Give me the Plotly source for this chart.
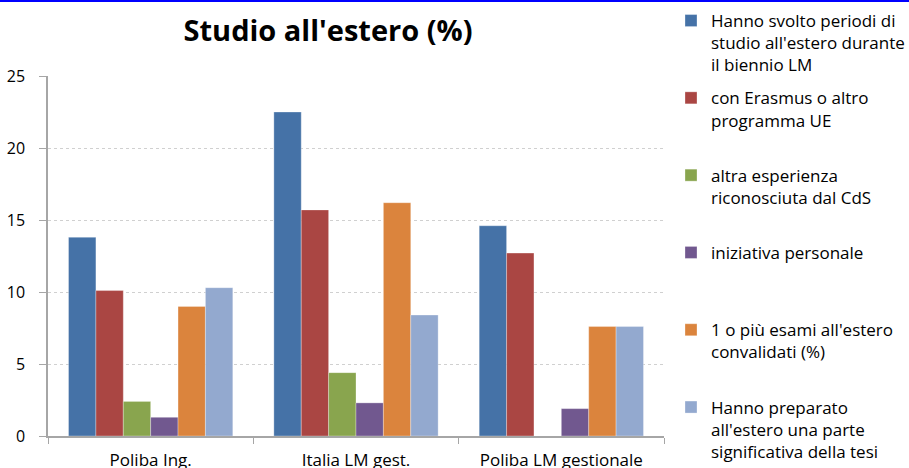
import plotly.graph_objects as go

categories = ["Poliba Ing.", "Italia LM gest.", "Poliba LM gestionale"]
series_names = [
    "Hanno svolto periodi di<br>studio all'estero durante<br>il biennio LM",
    "con Erasmus o altro<br>programma UE<br> ",
    "altra esperienza<br>riconosciuta dal CdS<br> ",
    "iniziativa personale<br> <br> ",
    "1 o più esami all'estero<br>convalidati (%)<br> ",
    "Hanno preparato<br>all'estero una parte<br>significativa della tesi",
]
periodi_estero = [13.8, 22.5, 14.6]
erasmus_ue = [10.1, 15.7, 12.7]
altra_esperienza = [2.4, 4.4, 0.0]
iniziativa_personale = [1.3, 2.3, 1.9]
esami_convalidati = [9.0, 16.2, 7.6]
tesi_estero = [10.3, 8.4, 7.6]
y_ticks = [0, 5, 10, 15, 20, 25]

series_values = [periodi_estero, erasmus_ue, altra_esperienza,
                 iniziativa_personale, esami_convalidati, tesi_estero]
colors = ["#4572A7", "#AA4643", "#89A54E", "#71588F", "#DB843D", "#93A9CF"]

FONT = "Open Sans"

fig = go.Figure()
for i, (name, vals, col) in enumerate(zip(series_names, series_values, colors)):
    fig.add_trace(go.Bar(
        x=categories, y=vals, name=name, legendgroup=f"g{i}",
        marker=dict(color=col, line=dict(width=0.6, color="rgba(255,255,255,0.5)")),
    ))

W, H = 909, 468
L, R, T, B = 48, 245, 76, 32
pw, ph = W - L - R, H - T - B

fig.update_layout(
    width=W, height=H,
    margin=dict(l=L, r=R, t=T, b=B, autoexpand=False),
    paper_bgcolor="white", plot_bgcolor="white",
    barmode="group", bargap=0.2, bargroupgap=0.0,
    font=dict(family=FONT, size=15, color="#000000"),
    title=dict(text="<b>Studio all'estero (%)</b>", x=(328 - L) / pw, xref="paper",
               xanchor="center", y=1 - 31 / H, yanchor="middle",
               font=dict(family=FONT, size=29, color="#000000")),
    legend=dict(x=(671 - L) / pw, xanchor="left", y=(T + ph - 3) / ph, yanchor="top",
                font=dict(family=FONT, size=17, color="#000000"),
                valign="top", tracegroupgap=8, itemwidth=30, maxheight=1,
                bgcolor="rgba(0,0,0,0)"),
    showlegend=True,
)
fig.update_xaxes(
    showline=True, linecolor="#A6A6A6", linewidth=1.5,
    ticks="outside", tickson="boundaries", ticklen=6, tickcolor="#A6A6A6",
    tickfont=dict(family=FONT, size=17), ticklabelstandoff=8,
    showgrid=False,
)
fig.update_yaxes(
    range=[0, 25], tickvals=y_ticks, ticktext=[str(v) for v in y_ticks],
    showline=True, linecolor="#A6A6A6", linewidth=1.5,
    ticks="outside", ticklen=7, tickcolor="#A6A6A6",
    tickfont=dict(family=FONT, size=16), ticklabelstandoff=11,
    showgrid=True, gridcolor="#D0D0D0", griddash="dot", gridwidth=1,
    zeroline=False,
)
# blue border line at the very top of the image
top_y = (H - 1 - B) / ph
fig.add_shape(type="line", xref="paper", yref="paper",
              x0=-L / pw, x1=(W - L) / pw, y0=top_y, y1=top_y,
              line=dict(color="#0000FF", width=2))

fig.write_html("out.html", config={"displayModeBar": False},
               post_script="document.body.style.margin='0';document.body.style.overflow='hidden';")
